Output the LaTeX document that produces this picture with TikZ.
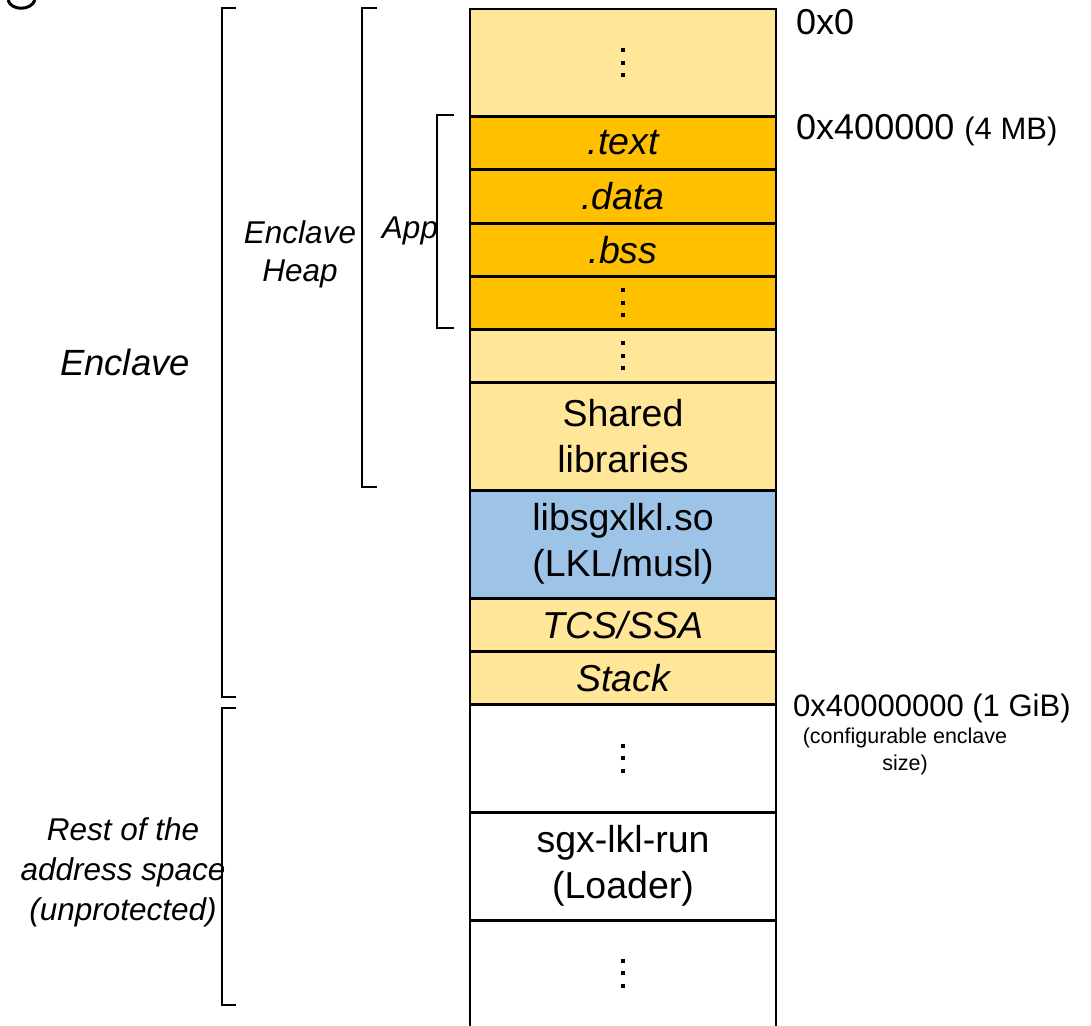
\documentclass[tikz,border=0pt]{standalone}
\usepackage{fontspec}
\setmainfont{Liberation Sans}
\newcommand\vdd{\vbox{\baselineskip=12.5pt\lineskiplimit=0pt\hbox{\rule{4pt}{4pt}}\hbox{\rule{4pt}{4pt}}\hbox{\rule{4pt}{4pt}}}}
\begin{document}
\begin{tikzpicture}[x=1pt,y=-1pt,
  seg/.style={draw=black,line width=2.5pt,minimum width=306pt,anchor=north,inner sep=0pt,align=center,font=\fontsize{37.5}{46}\selectfont},
  lite/.style={fill=lightyel},
  orng/.style={fill=orng},
  blu/.style={fill=blu},
  brk/.style={line width=2pt},
  addr/.style={anchor=west,inner sep=0pt,font=\fontsize{36}{40}\selectfont},
  side/.style={align=center,inner sep=0pt,font=\fontsize{31.5}{40}\selectfont\itshape}]
\definecolor{lightyel}{HTML}{FFE699}
\definecolor{orng}{HTML}{FFC000}
\definecolor{blu}{HTML}{9DC3E6}
\useasboundingbox (0,0) rectangle (1091,1025);
% clipped fragment at top-left
\draw[line width=3pt] (8,0) .. controls (11,11) and (31,11) .. (35,0);
% column
\node[seg,lite,minimum height=107pt] (s0) at (623,8) {\vdd};
\node[seg,orng,minimum height=53pt] (s1) at (623,115) {\itshape .text};
\node[seg,orng,minimum height=54pt] (s2) at (623,168) {\itshape .data};
\node[seg,orng,minimum height=53pt] (s3) at (623,222) {\itshape .bss};
\node[seg,orng,minimum height=53pt] (s4) at (623,275) {\vdd};
\node[seg,lite,minimum height=53pt] (s5) at (623,328) {\vdd};
\node[seg,lite,minimum height=108pt] (s6) at (623,381) {Shared\\libraries};
\node[seg,blu,minimum height=108pt] (s7) at (623,489) {libsgxlkl.so\\(LKL/musl)};
\node[seg,lite,minimum height=53pt] (s8) at (623,597) {\itshape TCS/SSA};
\node[seg,lite,minimum height=53pt] (s9) at (623,650) {\itshape Stack};
\node[seg,fill=white,minimum height=108pt] (s10) at (623,703) {\vdd};
\node[seg,fill=white,minimum height=108pt] (s11) at (623,811) {sgx-lkl-run\\(Loader)};
\node[seg,draw=none,minimum height=106pt] (s12) at (623,919) {\vdd};
\draw[line width=2.5pt] (470,919) -- (470,1030) (776,919) -- (776,1030);
% brackets
\draw[brk] (236,8) -- (222,8) -- (222,697) -- (236,697);
\draw[brk] (236,708) -- (222,708) -- (222,1005) -- (236,1005);
\draw[brk] (377,8) -- (362,8) -- (362,487) -- (377,487);
\draw[brk] (454,115) -- (437,115) -- (437,328) -- (454,328);
% side labels
\node[side,font=\fontsize{36.5}{40}\selectfont\itshape] (enc) at (125,362) {Enclave};
\node[side,font=\fontsize{31.5}{38}\selectfont\itshape] (heap) at (300,254) {Enclave\\Heap};
\node[side] (app) at (410,231) {App};
\node[side] (rest) at (123,872) {Rest of the\\address space\\(unprotected)};
% addresses
\node[addr] (a0) at (796,22) {0x0};
\node[addr] (a1) at (796,130) {0x400000 {\fontsize{31}{34}\selectfont(4 MB)}};
\node[addr,font=\fontsize{31}{36}\selectfont] (a2) at (793,708) {0x40000000 (1 GiB)};
\node[align=center,inner sep=0pt,font=\fontsize{21.5}{27}\selectfont] (cfg) at (905,751) {(configurable enclave\\size)};
\end{tikzpicture}
\end{document}
